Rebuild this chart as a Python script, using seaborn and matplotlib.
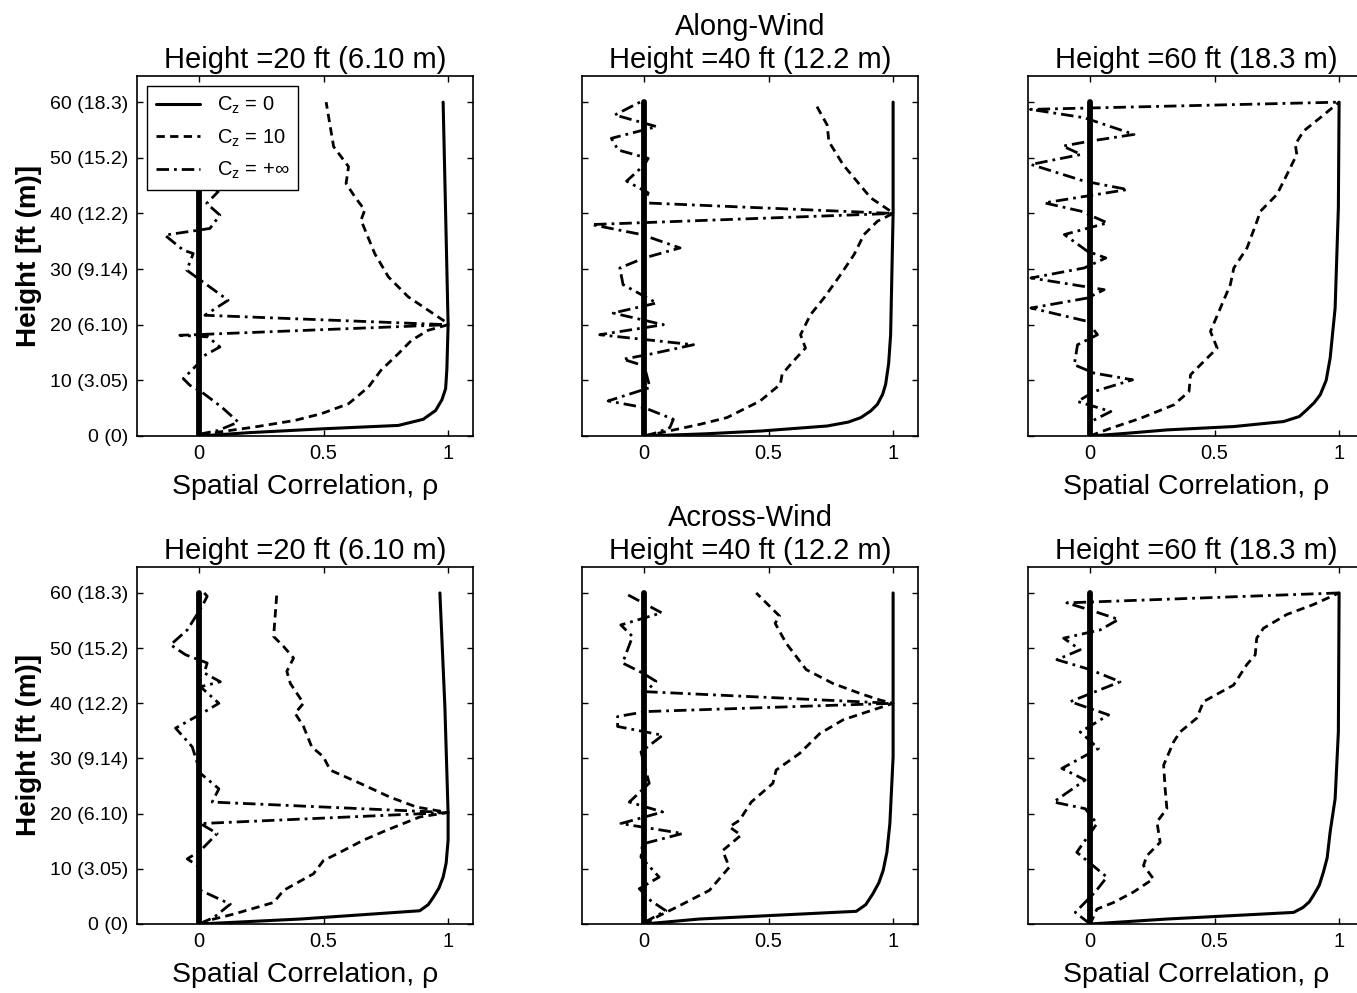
import matplotlib
matplotlib.use("Agg")
import matplotlib.pyplot as plt
from matplotlib import font_manager
from matplotlib.lines import Line2D
import pandas as pd
import seaborn as sns

# ---------------------------------------------------------------------------
# Spatial correlation profiles rho(h) against height h [ft]
# Three decay coefficients: C_z = 0 (solid), C_z = 10 (dashed), C_z = +inf (dash-dot)
# ---------------------------------------------------------------------------

# Along-wind, reference height 20 ft
along20_c0_h = [0, 0.6, 1.3, 1.9, 3, 4.6, 6.5, 8.5, 12, 20, 40, 60]
along20_c0_rho = [0, 0.2, 0.5, 0.8, 0.9, 0.95, 0.975, 0.99, 0.995, 1.0, 0.99, 0.98]
along20_c10_h = [0, 0.7, 1.6, 2.8, 4, 5.8, 8.8, 11.8, 14.8, 17.2, 19, 20, 20.5, 22.6, 25,
                 28.6, 32.8, 38.8, 40.6, 43, 45.4, 48.4, 52, 60]
along20_c10_rho = [0.01, 0.076, 0.22, 0.384, 0.49, 0.6, 0.68, 0.73, 0.8, 0.853, 0.92, 1.0,
                   0.99, 0.92, 0.84, 0.76, 0.705, 0.65, 0.665, 0.625, 0.59, 0.6, 0.54, 0.51]
along20_cinf_h = [0, 0.4, 1, 2.5, 5.2, 7.9, 9.1, 10.3, 13, 14.2, 16, 17.8, 18.1, 20, 21.7,
                  24.4, 28.3, 29.8, 32.8, 33.4, 36.1, 37.3, 39.7, 41.8, 43.9, 46, 49, 52,
                  55, 58, 60]
along20_cinf_rho = [0, 0.01, 0.076, 0.157, 0.09, 0.01, -0.037, -0.064, -0.004, 0.01, 0.083,
                    0.036, -0.078, 1.0, 0.023, 0.116, -0.004, -0.05, -0.024, -0.064, -0.138,
                    0.043, 0.083, 0.03, 0.076, 0.02, -0.05, 0.04, -0.03, 0.05, 0.0]

# Along-wind, reference height 40 ft
along40_c0_h = [0, 0.4, 0.9, 1.8, 2.5, 3.3, 4.5, 5.7, 7.5, 9.3, 13, 18.2, 40, 60]
along40_c0_rho = [0, 0.25, 0.47, 0.735, 0.82, 0.87, 0.91, 0.937, 0.958, 0.97, 0.982, 0.99,
                  1.0, 1.0]
along40_c10_h = [0, 0.3, 1.2, 2.1, 3.3, 6.3, 9.3, 11.1, 13.5, 15.8, 18.2, 21.8, 24.8, 29,
                 32.6, 36.2, 38.6, 40, 40.4, 42.8, 46.4, 48.7, 52.9, 55.9, 60]
along40_c10_rho = [0, 0.036, 0.13, 0.224, 0.332, 0.466, 0.547, 0.554, 0.6, 0.648, 0.628,
                   0.668, 0.722, 0.789, 0.843, 0.883, 0.937, 1.0, 0.99, 0.91, 0.843, 0.80,
                   0.742, 0.735, 0.684]
along40_cinf_h = [0, 0.6, 1.5, 3, 5.1, 6.3, 8.7, 12.6, 13.8, 14.7, 16.4, 18.2, 20, 22.1,
                  23.9, 27.2, 30.2, 32, 33.8, 36.2, 38, 40, 41.9, 43.7, 45.8, 48.7, 49.9,
                  51.4, 53.5, 55.6, 57.7, 60]
along40_cinf_rho = [0, 0.05, 0.103, 0.117, 0, -0.145, 0.023, 0, -0.085, 0.023, 0.198,
                    -0.179, 0.077, -0.125, 0.05, -0.085, -0.098, 0, 0.144, -0.01, -0.212,
                    1.0, 0, 0.016, -0.071, 0, 0.016, -0.105, -0.132, 0.05, -0.118, -0.017]

# Along-wind, reference height 60 ft
along60_c0_h = [0, 0.5, 1.1, 1.7, 2.6, 3.5, 4.7, 6, 7.4, 10, 14, 23, 41, 60]
along60_c0_rho = [0, 0.15, 0.31, 0.577, 0.777, 0.84, 0.87, 0.9, 0.924, 0.948, 0.964, 0.984,
                  0.997, 1.0]
along60_c10_h = [0, 0.2, 1.4, 3.2, 5.6, 8, 11, 12.8, 15.8, 18.8, 23, 27.2, 30.2, 33.8, 38.6,
                 40.4, 43.4, 46.4, 50.6, 52.4, 54.8, 57.2, 60]
along60_c10_rho = [0, 0.01, 0.083, 0.203, 0.336, 0.397, 0.403, 0.443, 0.51, 0.483, 0.523,
                   0.563, 0.577, 0.63, 0.67, 0.684, 0.75, 0.784, 0.83, 0.824, 0.857, 0.924,
                   1.0]
along60_cinf_h = [0, 2.6, 4.4, 6.2, 8, 10.1, 11.3, 12.8, 16.4, 18.2, 20.6, 23, 24.8, 26.3,
                  28.4, 30.2, 32, 33.2, 36.2, 38.3, 40.4, 41.9, 44.3, 45.8, 48.8, 50.6,
                  52.1, 53, 54.2, 57.2, 58.7, 60]
along60_cinf_rho = [0, 0.003, 0.083, -0.051, 0.016, 0.17, 0.016, -0.064, -0.051, 0.029,
                    -0.011, -0.238, -0.011, 0.056, -0.238, -0.024, 0.063, -0.011, -0.104,
                    0.069, -0.037, -0.184, 0.15, -0.024, -0.238, -0.037, -0.11, 0, 0.176,
                    -0.024, -0.24, 1.0]

# Across-wind, reference height 20 ft
across20_c0_h = [0, 0.9, 2.4, 3.5, 4.8, 6.5, 8.5, 11, 15.2, 20, 39.4, 60]
across20_c0_rho = [0, 0.406, 0.886, 0.92, 0.94, 0.963, 0.98, 0.992, 1.0, 1.0, 0.987, 0.967]
across20_c10_h = [0, 0.6, 1.8, 3.9, 6.1, 9.1, 11.5, 12.7, 15.2, 17, 19.4, 20.2, 21.2, 23,
                  25.5, 27.9, 30.3, 32.1, 35.8, 38.2, 40, 43.6, 45.8, 48.2, 50.3, 52.1,
                  55.8, 60]
across20_c10_rho = [0, 0.032, 0.139, 0.299, 0.339, 0.459, 0.499, 0.553, 0.66, 0.753, 0.886,
                    1.0, 0.873, 0.766, 0.646, 0.526, 0.499, 0.452, 0.419, 0.385, 0.419,
                    0.366, 0.352, 0.379, 0.339, 0.299, 0.305, 0.312]
across20_cinf_h = [0, 1.2, 3.6, 6.1, 10.6, 11.8, 13.3, 16.4, 18.2, 20.2, 22.1, 24.5, 27.3,
                   32.1, 35.5, 38.2, 40, 43, 43.9, 45.5, 47.3, 48.8, 50.6, 53.3, 57.6, 59.4,
                   60]
across20_cinf_rho = [0, 0.059, 0.125, 0.005, -0.008, -0.048, 0.005, 0.072, 0.005, 1.0,
                     0.052, 0.079, 0.005, -0.028, -0.095, 0.012, 0.079, 0.005, 0.085, 0.02,
                     0.032, -0.055, -0.115, -0.048, 0.012, 0.032, 0.02]

# Across-wind, reference height 40 ft
across40_c0_h = [0, 0.9, 2.3, 3.5, 5.5, 7.5, 9.7, 13, 18.2, 30.3, 60]
across40_c0_rho = [0, 0.221, 0.852, 0.89, 0.919, 0.943, 0.96, 0.975, 0.987, 1.0, 1.0]
across40_c10_h = [0, 0.3, 1.5, 3, 6.1, 10.3, 13.3, 16.1, 17.6, 18.8, 22.1, 25.5, 27.9,
                  30.9, 34.5, 37, 38.2, 40, 40.6, 41.8, 43.6, 46.1, 50.9, 54.5, 55.8, 60]
across40_c10_rho = [0, 0.013, 0.06, 0.128, 0.262, 0.342, 0.315, 0.389, 0.342, 0.383, 0.43,
                    0.517, 0.53, 0.624, 0.705, 0.799, 0.879, 1.0, 0.946, 0.866, 0.758,
                    0.651, 0.57, 0.526, 0.544, 0.45]
across40_cinf_h = [0, 0.6, 2.4, 4.2, 6.4, 8.5, 12.1, 14.5, 16.4, 18.2, 20.3, 22.1, 25.5,
                   31.2, 34.2, 35.8, 37.6, 38.5, 40, 42.1, 44, 45.5, 47.3, 52.1, 54.2, 56.4,
                   60]
across40_cinf_rho = [0, 0.013, 0.087, 0.027, -0.02, 0.06, -0.013, -0.007, 0.154, -0.094,
                     0.074, -0.06, 0.02, -0.013, 0.074, -0.107, -0.107, 0.007, 1.0, 0.007,
                     0.047, -0.007, -0.087, -0.047, -0.094, 0.07, -0.08]

# Across-wind, reference height 60 ft
across60_c0_h = [0, 0.9, 2.1, 3, 4, 5.2, 7, 9.4, 12, 16.7, 22.7, 34.8, 60]
across60_c0_rho = [0, 0.308, 0.817, 0.855, 0.88, 0.897, 0.92, 0.937, 0.952, 0.964, 0.984,
                   0.997, 1.0]
across60_c10_h = [0, 2.7, 3.9, 5.8, 8.2, 10.6, 12.4, 14.8, 18.5, 20.9, 24.5, 28.8, 33,
                  34.8, 37.3, 40.3, 43.3, 47, 48.8, 51.8, 53.6, 56.1, 57.9, 60]
across60_c10_rho = [0, 0.027, 0.094, 0.174, 0.254, 0.214, 0.228, 0.281, 0.268, 0.308,
                    0.301, 0.295, 0.335, 0.361, 0.428, 0.455, 0.576, 0.629, 0.663, 0.669,
                    0.696, 0.79, 0.897, 1.0]
across60_cinf_h = [0, 2.1, 5.8, 8.5, 13, 18.2, 20.9, 22.1, 26.1, 28.2, 31.8, 34.8, 37.9,
                   40.3, 43.9, 46.1, 47.9, 49.7, 51.8, 53.3, 55.2, 56.7, 58.2, 60]
across60_cinf_rho = [0, -0.06, 0.02, 0.067, -0.054, 0.027, -0.02, -0.147, -0.02, -0.114,
                     0.033, -0.04, 0.074, -0.08, 0.12, 0, -0.134, -0.04, -0.107, 0.04,
                     0.114, 0.013, -0.094, 1.0]

# zero-correlation reference line
zero_h = [0, 60]
zero_rho = [0, 0]

# axis ticks and labels
height_ticks = [0, 10, 20, 30, 40, 50, 60]
height_labels = ["0 (0)", "10 (3.05)", "20 (6.10)", "30 (9.14)", "40 (12.2)",
                 "50 (15.2)", "60 (18.3)"]
rho_ticks = [0, 0.5, 1]
rho_labels = ["0", "0.5", "1"]
legend_labels = [r"C$_\mathregular{z}$ = 0", r"C$_\mathregular{z}$ = 10",
                 r"C$_\mathregular{z}$ = +∞"]
panel_titles = [
    ["Height =20 ft (6.10 m)", "Along-Wind\nHeight =40 ft (12.2 m)", "Height =60 ft (18.3 m)"],
    ["Height =20 ft (6.10 m)", "Across-Wind\nHeight =40 ft (12.2 m)", "Height =60 ft (18.3 m)"],
]
panel_curves = [
    [(along20_c0_h, along20_c0_rho, along20_c10_h, along20_c10_rho, along20_cinf_h, along20_cinf_rho),
     (along40_c0_h, along40_c0_rho, along40_c10_h, along40_c10_rho, along40_cinf_h, along40_cinf_rho),
     (along60_c0_h, along60_c0_rho, along60_c10_h, along60_c10_rho, along60_cinf_h, along60_cinf_rho)],
    [(across20_c0_h, across20_c0_rho, across20_c10_h, across20_c10_rho, across20_cinf_h, across20_cinf_rho),
     (across40_c0_h, across40_c0_rho, across40_c10_h, across40_c10_rho, across40_cinf_h, across40_cinf_rho),
     (across60_c0_h, across60_c0_rho, across60_c10_h, across60_c10_rho, across60_cinf_h, across60_cinf_rho)],
]

# ---------------------------------------------------------------------------
sns.set_theme(style="ticks")
available = {f.name for f in font_manager.fontManager.ttflist}
base_family = ["Liberation Sans", "DejaVu Sans"]
tick_family = (["Liberation Sans Narrow"] if "Liberation Sans Narrow" in available else []) + base_family
plt.rcParams["font.family"] = base_family
plt.rcParams["mathtext.default"] = "regular"
plt.rcParams["axes.edgecolor"] = "black"
plt.rcParams["axes.linewidth"] = 1.2
for key in ("text.color", "axes.labelcolor", "xtick.color", "ytick.color",
            "axes.titlecolor", "legend.labelcolor"):
    plt.rcParams[key] = "black"

STYLE_SOLID = dict(color="black", linewidth=2.2, linestyle="-")
STYLE_DASH = dict(color="black", linewidth=2.0, linestyle=(0, (3.0, 1.9)))
STYLE_DASHDOT = dict(color="black", linewidth=2.0, linestyle=(0, (4.5, 1.8, 1.0, 1.8)))
STYLE_ZERO = dict(color="black", linewidth=4.2, linestyle="-")

W, H = 1357, 993
fig = plt.figure(figsize=(W / 100, H / 100), dpi=100)
col_left = [137, 582, 1028]
row_top = [76, 567]
row_bottom = [436, 924]
axes_w = 336

for r in range(2):
    for c in range(3):
        ax = fig.add_axes([col_left[c] / W, (H - row_bottom[r]) / H,
                           axes_w / W, (row_bottom[r] - row_top[r]) / H])
        c0h, c0r, c10h, c10r, cih, cir = panel_curves[r][c]

        frames = [
            (pd.DataFrame({"rho": c0r, "h": c0h}), STYLE_SOLID),
            (pd.DataFrame({"rho": c10r, "h": c10h}), STYLE_DASH),
            (pd.DataFrame({"rho": cir, "h": cih}), STYLE_DASHDOT),
            (pd.DataFrame({"rho": zero_rho, "h": zero_h}), STYLE_ZERO),
        ]
        for df, st in frames:
            sns.lineplot(data=df, x="rho", y="h", ax=ax, sort=False, estimator=None,
                         legend=False, **st)

        ax.set_xlim(-0.25, 1.1)
        ax.set_ylim(0, 64.7)
        ax.set_xticks(rho_ticks)
        ax.set_xticklabels(rho_labels, family=tick_family, fontsize=14.5)
        ax.set_yticks(height_ticks)
        if c == 0:
            ax.set_yticklabels(height_labels, family=tick_family, fontsize=14)
            ax.set_ylabel("Height [ft (m)]", fontsize=20, fontweight="bold", labelpad=6)
        else:
            ax.set_yticklabels([])
            ax.set_ylabel("")
        if c != 1:
            ax.set_xlabel("Spatial Correlation, ρ", fontsize=20.5, labelpad=8)
        else:
            ax.set_xlabel("")
        ax.tick_params(direction="in", top=True, right=True, length=4, width=1,
                       color="black", labelcolor="black", pad=6)
        for sp in ax.spines.values():
            sp.set_visible(True)
            sp.set_color("black")
        ax.set_title(panel_titles[r][c], fontsize=21, pad=6, color="black")

        if r == 0 and c == 0:
            handles = [Line2D([], [], **STYLE_SOLID), Line2D([], [], **STYLE_DASH),
                       Line2D([], [], **STYLE_DASHDOT)]
            leg = ax.legend(handles, legend_labels, loc="upper left",
                            bbox_to_anchor=(0.03, 0.972), borderaxespad=0,
                            fontsize=14.5, frameon=True, fancybox=False, framealpha=1,
                            edgecolor="black", handlelength=2.2, handletextpad=0.8,
                            labelspacing=0.55, borderpad=0.45)
            leg.get_frame().set_linewidth(1.0)

fig.savefig("out.png", dpi=100, facecolor="white")
